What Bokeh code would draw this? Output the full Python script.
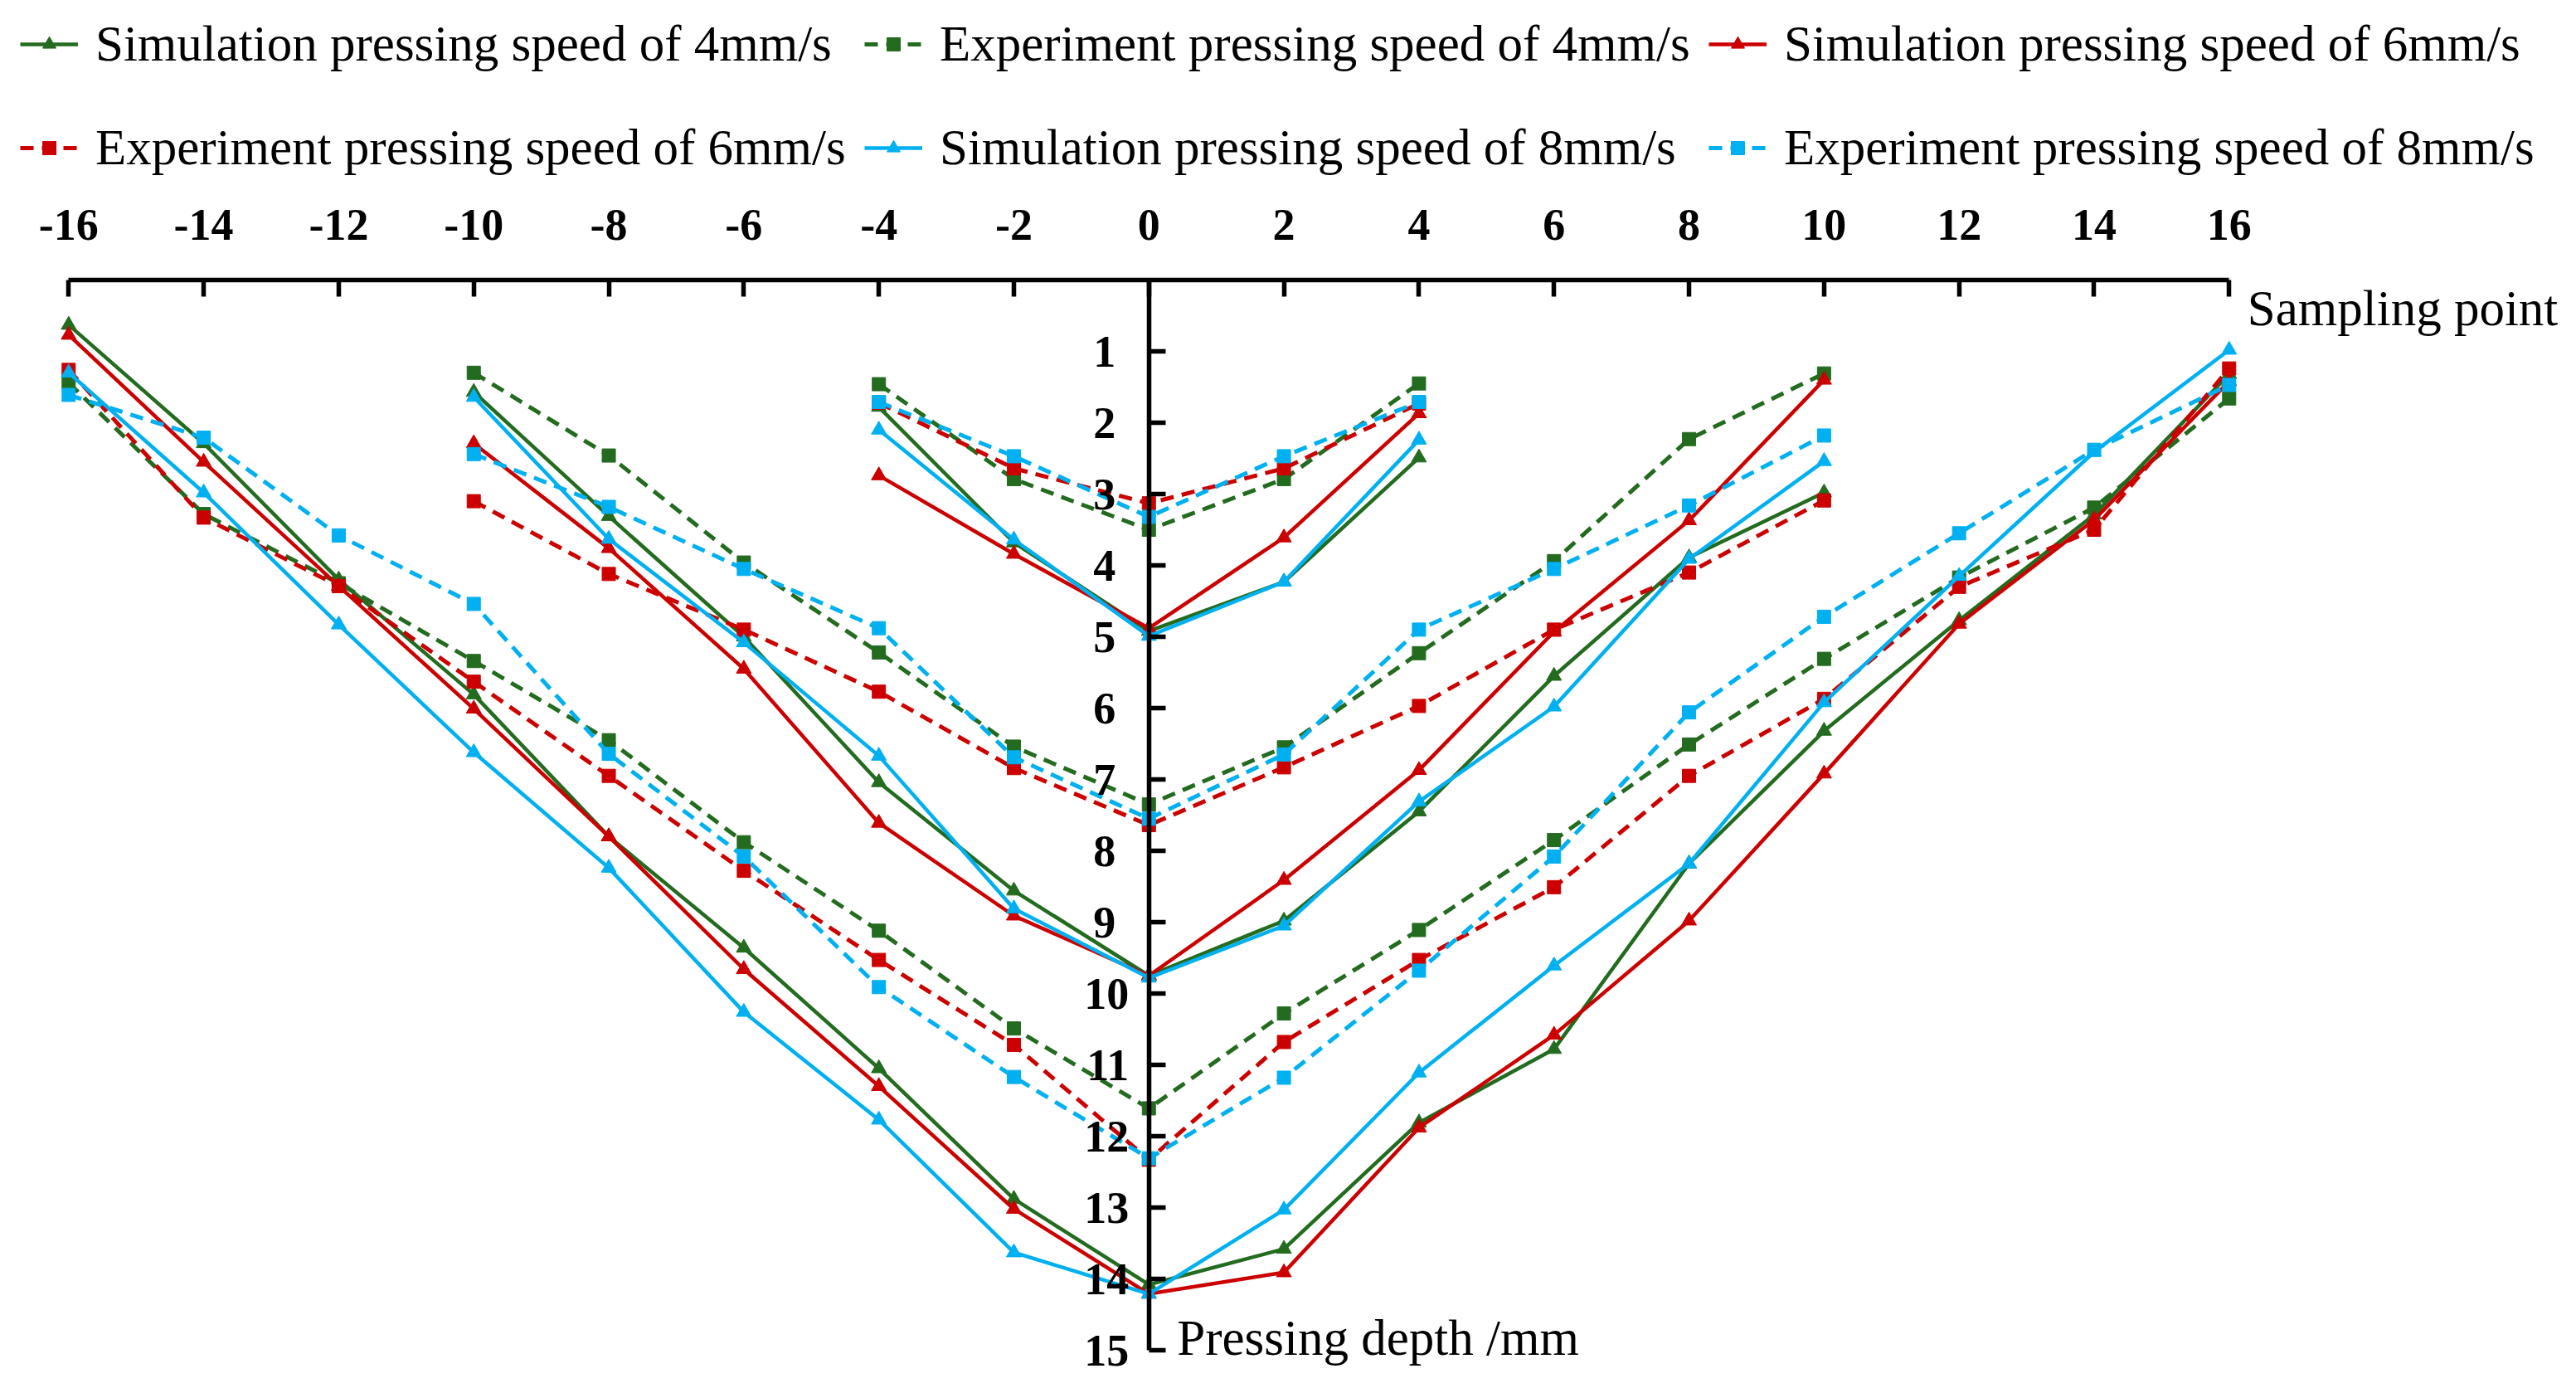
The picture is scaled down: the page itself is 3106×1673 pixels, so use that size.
import math
from bokeh.plotting import figure
from bokeh.models import Range1d, LinearAxis, FixedTicker, Legend, LegendItem, Label
from bokeh.embed import file_html
from bokeh.resources import INLINE

nan = float("nan")

# ---------------- data ----------------
x_outer = [-16, -14, -12, -10, -8, -6, -4, -2, 0, 2, 4, 6, 8, 10, 12, 14, 16]
x_middle = [-10, -8, -6, -4, -2, 0, 2, 4, 6, 8, 10]
x_inner = [-4, -2, 0, 2, 4]

sampling_ticks = [-16, -14, -12, -10, -8, -6, -4, -2, 0, 2, 4, 6, 8, 10, 12, 14, 16]
depth_ticks_1 = [1, 2, 3, 4, 5, 6, 7, 8, 9]
depth_ticks_2 = [10, 11, 12, 13, 14, 15]

# Simulation 4 mm/s
sim4_outer = [0.63, 2.29, 4.20, 5.81, 7.80, 9.36, 11.05, 12.88, 14.08, 13.58, 11.81, 10.78, 8.18, 6.32, 4.77, 3.29, 1.32]
sim4_middle = [1.57, 3.31, 5.00, 7.04, 8.56, 9.75, 8.98, 7.45, 5.55, 3.89, 2.98]
sim4_inner = [1.78, 3.68, 4.92, 4.23, 2.49]
# Experiment 4 mm/s
exp4_outer = [1.44, 3.28, 4.25, 5.34, 6.45, 7.88, 9.12, 10.49, 11.61, 10.28, 9.11, 7.85, 6.51, 5.31, 4.17, 3.19, 1.66]
exp4_middle = [1.30, 2.46, 3.96, 5.22, 6.54, 7.35, 6.55, 5.23, 3.94, 2.23, 1.31]
exp4_inner = [1.46, 2.79, 3.50, 2.79, 1.45]
# Simulation 6 mm/s
sim6_outer = [0.77, 2.55, 4.29, 6.01, 7.80, 9.66, 11.30, 13.02, 14.21, 13.91, 11.88, 10.58, 8.98, 6.92, 4.82, 3.36, 1.42]
sim6_middle = [2.29, 3.76, 5.45, 7.61, 8.91, 9.75, 8.41, 6.87, 4.93, 3.37, 1.40]
sim6_inner = [2.74, 3.84, 4.88, 3.61, 1.87]
# Experiment 6 mm/s
exp6_outer = [1.26, 3.33, 4.29, 5.63, 6.95, 8.28, 9.53, 10.72, 12.33, 10.68, 9.53, 8.51, 6.95, 5.87, 4.30, 3.50, 1.24]
exp6_middle = [3.10, 4.12, 4.90, 5.77, 6.84, 7.64, 6.83, 5.97, 4.90, 4.10, 3.09]
exp6_inner = [1.72, 2.64, 3.13, 2.64, 1.73]
# Simulation 8 mm/s
sim8_outer = [1.30, 2.98, 4.83, 6.62, 8.24, 10.26, 11.77, 13.63, 14.21, 13.03, 11.11, 9.61, 8.18, 5.92, 4.15, 2.41, 0.98]
sim8_middle = [1.64, 3.63, 5.08, 6.67, 8.81, 9.78, 9.05, 7.31, 5.98, 3.91, 2.54]
sim8_inner = [2.10, 3.64, 4.99, 4.23, 2.24]
# Experiment 8 mm/s
exp8_outer = [1.61, 2.21, 3.58, 4.54, 6.64, 8.08, 9.91, 11.17, 12.31, 11.18, 9.68, 8.08, 6.06, 4.72, 3.55, 2.38, 1.47]
exp8_middle = [2.44, 3.18, 4.05, 4.88, 6.69, 7.55, 6.65, 4.90, 4.05, 3.16, 2.18]
exp8_inner = [1.71, 2.47, 3.32, 2.47, 1.71]

labels = [
    "Simulation pressing speed of 4mm/s",
    "Experiment pressing speed of 4mm/s",
    "Simulation pressing speed of 6mm/s",
    "Experiment pressing speed of 6mm/s",
    "Simulation pressing speed of 8mm/s",
    "Experiment pressing speed of 8mm/s",
]

GREEN = "#236B1F"
RED = "#CC0000"
BLUE = "#00B0F0"
FONT = "Liberation Serif"

# ---------------- figure geometry ----------------
W, H = 3090, 1657
PX_X = 81.406          # px per sampling unit
X0 = -16 - 82.3 / PX_X
X1 = X0 + W / PX_X
PX_Y = 86.0            # px per mm
Y_TOP = -337.0 / PX_Y
Y_BOT = Y_TOP + H / PX_Y

p = figure(width=W, height=H, output_backend="svg", toolbar_location=None,
           x_range=Range1d(X0, X1), y_range=Range1d(Y_BOT, Y_TOP),
           x_axis_location=None, y_axis_location=None,
           min_border=0, outline_line_color=None)
p.min_border_left = 0
p.min_border_right = 0
p.min_border_top = 0
p.min_border_bottom = 0
p.background_fill_color = "white"
for g in list(p.center):
    if g.__class__.__name__ == "Grid":
        g.visible = False


def join(parts_x, parts_y):
    xs, ys = [], []
    for i, (a, b) in enumerate(zip(parts_x, parts_y)):
        if i:
            xs.append(nan)
            ys.append(nan)
        xs.extend(a)
        ys.extend(b)
    return xs, ys


series = [
    (labels[0], GREEN, "solid", "triangle", (sim4_outer, sim4_middle, sim4_inner)),
    (labels[1], GREEN, "dashed", "square", (exp4_outer, exp4_middle, exp4_inner)),
    (labels[2], RED, "solid", "triangle", (sim6_outer, sim6_middle, sim6_inner)),
    (labels[3], RED, "dashed", "square", (exp6_outer, exp6_middle, exp6_inner)),
    (labels[4], BLUE, "solid", "triangle", (sim8_outer, sim8_middle, sim8_inner)),
    (labels[5], BLUE, "dashed", "square", (exp8_outer, exp8_middle, exp8_inner)),
]

items = {}
for label, color, style, marker, parts in series:
    xs, ys = join((x_outer, x_middle, x_inner), parts)
    if style == "solid":
        lr = p.line(xs, ys, line_color=color, line_width=4.5)
    else:
        lr = p.line(xs, ys, line_color=color, line_width=5, line_dash="16 10")
    px = [v for v in xs if not math.isnan(v)]
    py = [v for v in ys if not math.isnan(v)]
    if marker == "triangle":
        sr = p.scatter(px, py, marker="triangle", size=18, fill_color=color, line_color=color)
    else:
        sr = p.scatter(px, py, marker="square", size=16, fill_color=color, line_color=color)
    items[label] = LegendItem(label=label, renderers=[lr, sr])

# ---------------- axes ----------------
xaxis = LinearAxis(fixed_location=0, bounds=(-16, 16),
                   ticker=FixedTicker(ticks=sampling_ticks),
                   major_label_overrides={t: str(t) for t in sampling_ticks},
                   axis_line_width=5.5, axis_line_color="black",
                   major_tick_line_width=5.5, major_tick_line_color="black",
                   major_tick_in=20, major_tick_out=0,
                   minor_tick_line_color=None,
                   major_label_standoff=49,
                   major_label_text_font=FONT, major_label_text_font_size="54px",
                   major_label_text_font_style="bold", major_label_text_color="black")
p.add_layout(xaxis, "above")

for ticks, standoff, line_color in ((depth_ticks_1, 40, "black"), (depth_ticks_2, 24, None)):
    yaxis = LinearAxis(fixed_location=0, bounds=(0, 15),
                       ticker=FixedTicker(ticks=ticks),
                       axis_line_width=5.5, axis_line_color=line_color,
                       major_tick_line_width=5.5, major_tick_line_color="black",
                       major_tick_in=20, major_tick_out=0,
                       minor_tick_line_color=None,
                       major_label_standoff=standoff,
                       major_label_text_font=FONT, major_label_text_font_size="54px",
                       major_label_text_font_style="bold", major_label_text_color="black")
    p.add_layout(yaxis, "left")

p.add_layout(Label(x=16, y=0, x_offset=22, y_offset=-34, text="Sampling point",
                   text_font=FONT, text_font_size="61px", text_color="black",
                   text_baseline="alphabetic", text_align="left"))
p.add_layout(Label(x=0, y=15, x_offset=34, y_offset=15, text="Pressing depth /mm",
                   text_font=FONT, text_font_size="61px", text_color="black",
                   text_baseline="alphabetic", text_align="left"))

# ---------------- legends (three columns) ----------------
cols = [
    (24, [labels[0], labels[3]]),
    (1042, [labels[1], labels[4]]),
    (2060, [labels[2], labels[5]]),
]
LEG_H = 2 * 88 + 37
LEG_TOP = 9
for xl, labs in cols:
    lg = Legend(items=[items[l] for l in labs], location=(xl, H - LEG_TOP - LEG_H),
                orientation="vertical", glyph_width=70, glyph_height=40,
                label_height=88, label_standoff=21, spacing=37, padding=0, margin=0,
                border_line_color=None, background_fill_alpha=0,
                label_text_font=FONT, label_text_font_size="61px",
                label_text_color="black", label_text_baseline="middle")
    p.add_layout(lg, "center")

open("out.html", "w").write(file_html(p, INLINE))
